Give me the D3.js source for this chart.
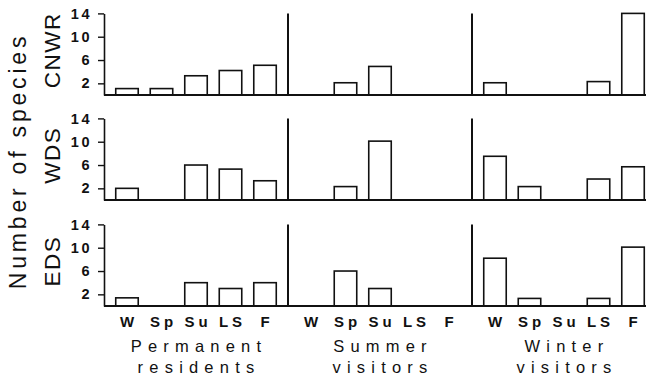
<!DOCTYPE html>
<html>
<head>
<meta charset="utf-8">
<script src="https://cdn.jsdelivr.net/npm/d3@7"></script>
<style>
  html, body { margin: 0; padding: 0; background: #fff; }
  svg { display: block; }
  text { font-family: "Liberation Sans", Arial, Helvetica, sans-serif; fill: #111; }
</style>
</head>
<body>
<svg id="chart" width="646" height="381"></svg>
<script>
// ---- data ----
const rows = ["CNWR", "WDS", "EDS"];
const seasons = ["W", "Sp", "Su", "LS", "F"];
const groupLine1 = ["Permanent", "Summer", "Winter"];
const groupLine2 = ["residents", "visitors", "visitors"];
const yTicks = [2, 6, 10, 14];
const yLabel = "Number of species";

const cnwrPermanent = [1.1, 1.1, 3.3, 4.2, 5.1];
const cnwrSummer    = [0, 2.1, 4.9, 0, 0];
const cnwrWinter    = [2.1, 0, 0, 2.3, 14];
const wdsPermanent  = [2, 0, 6, 5.3, 3.3];
const wdsSummer     = [0, 2.3, 10.1, 0, 0];
const wdsWinter     = [7.5, 2.3, 0, 3.6, 5.7];
const edsPermanent  = [1.4, 0, 4, 3, 4];
const edsSummer     = [0, 6, 3, 0, 0];
const edsWinter     = [8.2, 1.3, 0, 1.3, 10.1];

const rowData = [
  [cnwrPermanent, cnwrSummer, cnwrWinter],
  [wdsPermanent, wdsSummer, wdsWinter],
  [edsPermanent, edsSummer, edsWinter]
];

// ---- layout ----
const svg = d3.select("#chart");
const left = 104, panelW = 184, rightEdge = 646;
const rowBase = [95, 200, 306];
const rowH = 81.6;

const xGroup = d3.scaleBand().domain(groupLine1).range([left, left + 3 * panelW]);
const xSeason = d3.scaleBand().domain(seasons).range([0, panelW]).paddingInner(0.348).paddingOuter(0.34);

rows.forEach((r, ri) => {
  const y = d3.scaleLinear().domain([0, 14]).range([rowBase[ri], rowBase[ri] - rowH]);
  const g = svg.append("g");

  // bars
  groupLine1.forEach((grp, gi) => {
    const x0 = xGroup(grp);
    const vals = rowData[ri][gi];
    g.selectAll(null)
      .data(seasons.map((s, i) => ({ s, v: vals[i] })).filter(d => d.v > 0))
      .enter().append("rect")
      .attr("x", d => x0 + xSeason(d.s))
      .attr("y", d => y(d.v))
      .attr("width", xSeason.bandwidth())
      .attr("height", d => y(0) - y(d.v))
      .attr("fill", "#fff")
      .attr("stroke", "#111")
      .attr("stroke-width", 1.6);
    // divider lines between groups
    if (gi > 0) {
      g.append("line")
        .attr("x1", x0).attr("x2", x0)
        .attr("y1", y(0)).attr("y2", y(14))
        .attr("stroke", "#111").attr("stroke-width", 2);
    }
  });

  // baseline
  g.append("line")
    .attr("x1", left).attr("x2", rightEdge)
    .attr("y1", y(0)).attr("y2", y(0))
    .attr("stroke", "#111").attr("stroke-width", 2);

  // y axis
  const ax = g.append("g")
    .attr("transform", `translate(${left},0)`)
    .call(d3.axisLeft(y).tickValues(yTicks).tickSize(6).tickSizeOuter(0).tickPadding(6));
  ax.select(".domain").attr("stroke", "#111").attr("stroke-width", 1.6);
  ax.selectAll(".tick line").attr("stroke", "#111").attr("stroke-width", 1.4);
  ax.selectAll(".tick text")
    .attr("font-size", 14.5).attr("font-weight", "bold")
    .attr("letter-spacing", "2.5px").attr("fill", "#111")
    .attr("font-family", "'Liberation Sans', Arial, sans-serif");

  // row label
  const midY = (y(0) + y(14)) / 2 - 4;
  g.append("text")
    .attr("transform", `translate(60,${midY}) rotate(-90)`)
    .attr("text-anchor", "middle")
    .attr("font-size", 22.5)
    .attr("letter-spacing", "1.5px")
    .text(r);
});

// season labels
groupLine1.forEach(grp => {
  const x0 = xGroup(grp);
  svg.append("g").selectAll("text").data(seasons).enter().append("text")
    .attr("x", d => x0 + xSeason(d) + xSeason.bandwidth() / 2 + 2)
    .attr("y", 327)
    .attr("text-anchor", "middle")
    .attr("font-size", 15)
    .attr("font-weight", "bold")
    .attr("letter-spacing", "4px")
    .text(d => d);
});

// group labels
groupLine1.forEach((grp, gi) => {
  const cx = xGroup(grp) + panelW / 2 + 3;
  svg.append("text").attr("x", cx).attr("y", 352)
    .attr("text-anchor", "middle").attr("font-size", 16.5)
    .attr("letter-spacing", "6.2px").text(grp);
  svg.append("text").attr("x", cx).attr("y", 373)
    .attr("text-anchor", "middle").attr("font-size", 16.5)
    .attr("letter-spacing", "6.2px").text(groupLine2[gi]);
});

// y title
svg.append("text")
  .attr("transform", "translate(26,161) rotate(-90)")
  .attr("text-anchor", "middle")
  .attr("font-size", 23)
  .attr("letter-spacing", "3.8px")
  .text(yLabel);
</script>
</body>
</html>
